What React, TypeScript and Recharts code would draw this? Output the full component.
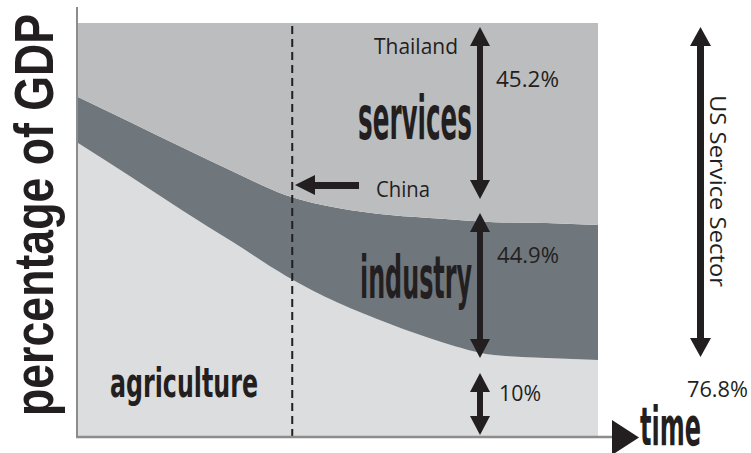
import React from "react";
import { AreaChart, Area, XAxis, YAxis, ReferenceLine } from "recharts";

// time steps along the x axis (evenly spaced, no units in the source)
const timeSteps = [0, 1, 2, 3, 4, 5, 6, 7, 8, 9, 10];

// share of GDP per sector (percent)
const agriculture = [71.0, 63.0, 54.8, 46.9, 38.9, 32.4, 27.3, 22.9, 19.8, 19.1, 18.6];
const industry = [11.1, 13.1, 15.2, 17.1, 19.5, 22.9, 26.3, 29.8, 32.1, 32.6, 32.6];
const services = [17.9, 23.9, 30.0, 36.0, 41.6, 44.7, 46.4, 47.3, 48.1, 48.3, 48.8];

// where China sits on the time axis
const chinaTime = 4.12;

const data = timeSteps.map((t, i) => ({
  t,
  agriculture: agriculture[i],
  industry: industry[i],
  services: services[i],
}));

const ink = "#231f20";
const axisGray = "#8c8c8c";
const smallFont = "'Open Sans', 'Noto Sans', sans-serif";
const boldNarrow = "'Liberation Sans Narrow', 'DejaVu Sans Condensed', 'Liberation Sans', sans-serif";

// vertical double-headed arrow
function vArrow(x: number, y1: number, y2: number, head = 19, headW = 20, shaft = 6) {
  const h = headW / 2;
  const s = shaft / 2;
  return `M${x},${y1} L${x + h},${y1 + head} L${x + s},${y1 + head} L${x + s},${y2 - head} L${x + h},${y2 - head} L${x},${y2} L${x - h},${y2 - head} L${x - s},${y2 - head} L${x - s},${y1 + head} L${x - h},${y1 + head} Z`;
}

const Label = (props: {
  x: number;
  y: number;
  len: number;
  size: number;
  text: string;
  bold?: boolean;
  rotate?: number;
}) => {
  const { x, y, len, size, text, bold, rotate } = props;
  return (
    <text
      x={x}
      y={y}
      fontSize={size}
      fill={ink}
      fontFamily={bold ? boldNarrow : smallFont}
      fontWeight={bold ? 700 : 400}
      textLength={len}
      lengthAdjust="spacingAndGlyphs"
      textAnchor={rotate ? "middle" : "start"}
      transform={rotate ? `rotate(${rotate} ${x} ${y})` : undefined}
    >
      {text}
    </text>
  );
};

export default function App() {
  return (
    <div style={{ position: "absolute", left: 0, top: 0, width: 751, height: 453, background: "#fff" }}>
      <AreaChart
        width={751}
        height={453}
        data={data}
        margin={{ top: 23, right: 153, bottom: 16, left: 78 }}
      >
        <XAxis dataKey="t" type="number" domain={[0, 10]} hide />
        <YAxis domain={[0, 100]} hide />
        <Area
          type="monotone"
          dataKey="agriculture"
          stackId="gdp"
          stroke="none"
          fill="#dcdddf"
          fillOpacity={1}
          isAnimationActive={false}
        />
        <Area
          type="monotone"
          dataKey="industry"
          stackId="gdp"
          stroke="none"
          fill="#6f767c"
          fillOpacity={1}
          isAnimationActive={false}
        />
        <Area
          type="monotone"
          dataKey="services"
          stackId="gdp"
          stroke="none"
          fill="#bcbdbf"
          fillOpacity={1}
          isAnimationActive={false}
        />
        <ReferenceLine x={chinaTime} stroke={ink} strokeWidth={2} strokeDasharray="8 5" />
      </AreaChart>

      <svg
        width={751}
        height={453}
        style={{ position: "absolute", left: 0, top: 0, pointerEvents: "none" }}
      >
        {/* axes */}
        <line x1={77} y1={7} x2={77} y2={438} stroke={axisGray} strokeWidth={2} />
        <line x1={76} y1={437} x2={616} y2={437} stroke={axisGray} strokeWidth={2.5} />
        <polygon points="612,420 639,437.5 612,455" fill={ink} />

        {/* arrows */}
        <path d={vArrow(480, 27, 199)} fill={ink} />
        <path d={vArrow(480, 213, 358)} fill={ink} />
        <path d={vArrow(480, 373, 435)} fill={ink} />
        <path d={vArrow(700.5, 27, 357, 19, 21, 7)} fill={ink} />
        <path d="M295,185 L315,175 L315,182 L359,182 L359,189 L315,189 L315,195 Z" fill={ink} />

        {/* small labels */}
        <Label x={374} y={54} len={84} size={21} text="Thailand" />
        <Label x={496} y={87} len={63} size={21} text="45.2%" />
        <Label x={376} y={197} len={54} size={21} text="China" />
        <Label x={497} y={263} len={62} size={21} text="44.9%" />
        <Label x={499} y={401} len={42} size={21} text="10%" />
        <Label x={687} y={397} len={61} size={21} text="76.8%" />
        <Label x={710} y={191} len={192} size={22} text="US Service Sector" rotate={90} />

        {/* sector labels */}
        <Label x={358} y={139} len={114} size={60} text="services" bold />
        <Label x={360} y={298} len={112} size={58} text="industry" bold />
        <Label x={110} y={397} len={148} size={41} text="agriculture" bold />
        <Label x={640} y={445} len={61} size={54} text="time" bold />
        <text
          x={53}
          y={215}
          fontSize={55}
          fill={ink}
          fontFamily="'Liberation Sans', Arial, sans-serif"
          fontWeight={700}
          textLength={402}
          lengthAdjust="spacingAndGlyphs"
          textAnchor="middle"
          transform="rotate(-90 53 215)"
        >
          percentage of GDP
        </text>
      </svg>
    </div>
  );
}
